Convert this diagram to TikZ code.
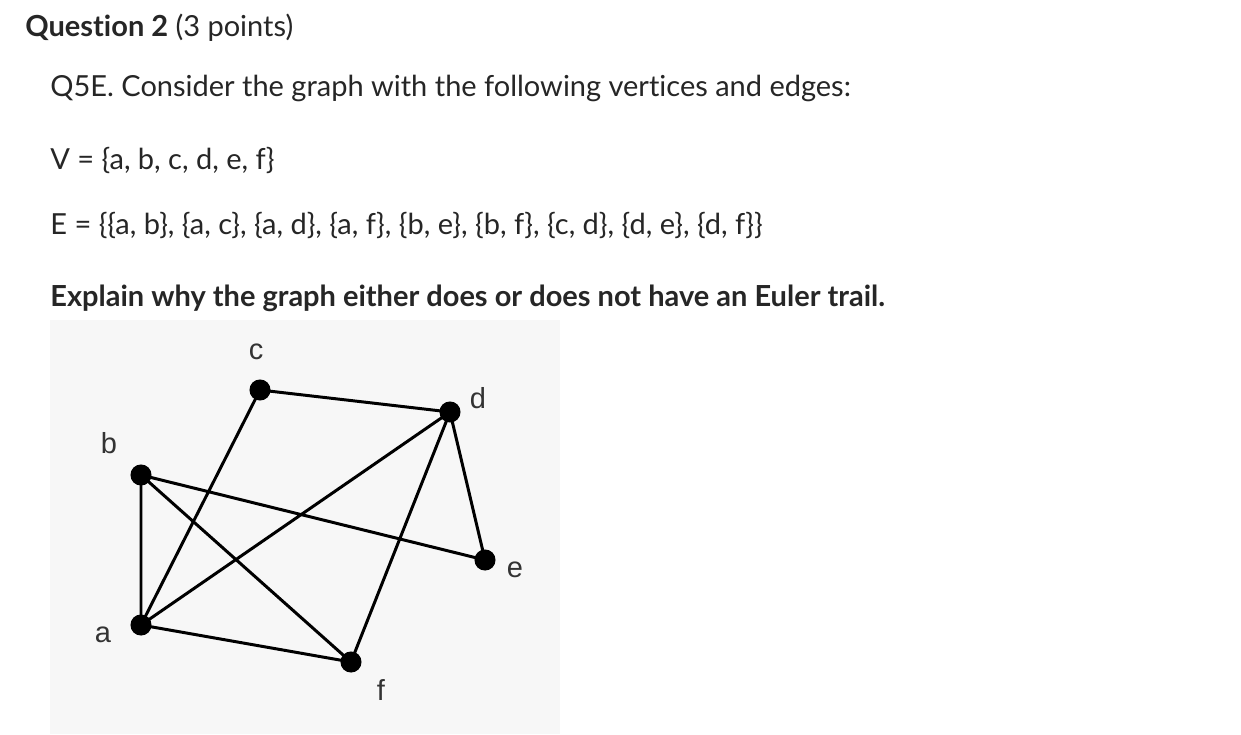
\documentclass[tikz,border=0pt]{standalone}
\usepackage{fontspec}
\setmainfont[Ligatures=NoCommon]{Lato}
\newfontfamily\arialf{Liberation Sans}
\begin{document}
\begin{tikzpicture}[x=0.02cm,y=-0.02cm,
  txt/.style={anchor=west,inner sep=0pt,font=\fontsize{16.5}{19}\selectfont,text=black!85},
  vtx/.style={circle,fill=black,inner sep=0pt,minimum size=12pt},
  lbl/.style={inner sep=0pt,font=\arialf\fontsize{16.5}{19}\selectfont,text=black!80},
  edge/.style={line width=1.7pt}]
\useasboundingbox (0,0) rectangle (1241,734);
\fill[white] (0,0) rectangle (1241,734);
\fill[black!3] (50,320) rectangle (560,734);
\node[txt] (t1) at (25,28) {\textbf{Question 2} (3 points)};
\node[txt] (t2) at (50,88) {Q5E. Consider the graph with the following vertices and edges:};
\node[txt] (t3) at (50,160) {V = \{a, b, c, d, e, f\}};
\node[txt] (t4) at (50,225) {E = \{\{a, b\}, \{a, c\}, \{a, d\}, \{a, f\}, \{b, e\}, \{b, f\}, \{c, d\}, \{d, e\}, \{d, f\}\}};
\node[txt] (t5) at (50,298) {\textbf{Explain why the graph either does or does not have an Euler trail.}};
\node[vtx] (c) at (260,390) {};
\node[vtx] (d) at (450,412) {};
\node[vtx] (b) at (141,475) {};
\node[vtx] (e) at (485,560) {};
\node[vtx] (a) at (141,625) {};
\node[vtx] (f) at (351,662) {};
\node[lbl] (lc) at (256,352) {c};
\node[lbl] (ld) at (478,398) {d};
\node[lbl] (lb) at (109,443) {b};
\node[lbl] (le) at (515,570) {e};
\node[lbl] (la) at (103,635) {a};
\node[lbl] (lf) at (381,690) {f};
\draw[edge] (a.center)--(b.center) (a.center)--(c.center) (a.center)--(d.center) (a.center)--(f.center)
 (b.center)--(e.center) (b.center)--(f.center) (c.center)--(d.center) (d.center)--(e.center) (d.center)--(f.center);
\end{tikzpicture}
\end{document}
